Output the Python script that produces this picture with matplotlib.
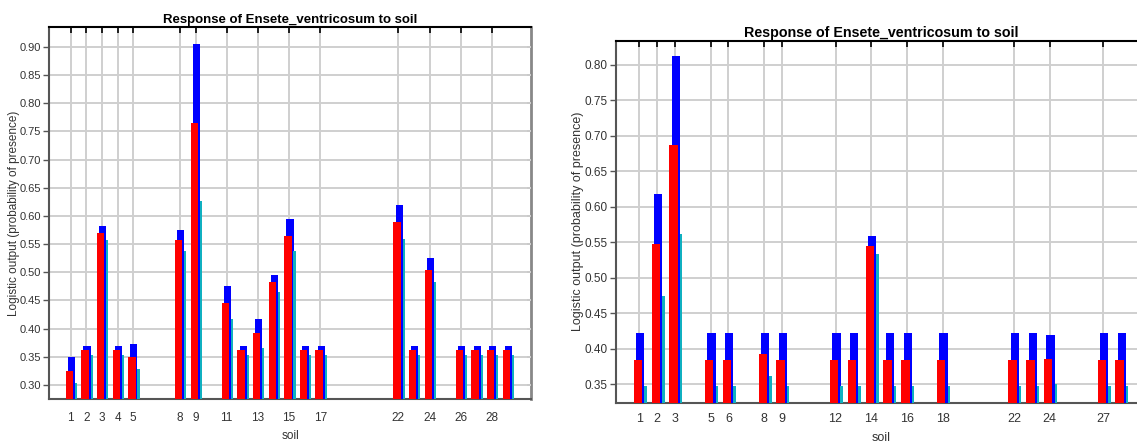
import matplotlib
matplotlib.use("Agg")
import matplotlib.pyplot as plt

plt.rcParams['font.family'] = ['Liberation Sans', 'DejaVu Sans']

title = "Response of Ensete_ventricosum to soil"
xlabel = "soil"
ylabel = "Logistic output (probability of presence)"

# Left panel
left_cats = [1, 2, 3, 4, 5, 8, 9, 11, 12, 13, 14, 15, 16, 17, 22, 23, 24, 26, 27, 28, 29]
left_blue = [0.350, 0.370, 0.583, 0.370, 0.372, 0.575, 0.906, 0.476, 0.370, 0.417, 0.496,
             0.595, 0.370, 0.370, 0.619, 0.370, 0.525, 0.370, 0.370, 0.370, 0.370]
left_red = [0.325, 0.362, 0.569, 0.362, 0.350, 0.557, 0.765, 0.445, 0.362, 0.393, 0.482,
            0.565, 0.362, 0.362, 0.589, 0.362, 0.504, 0.362, 0.362, 0.362, 0.362]
left_cyan = [0.303, 0.353, 0.557, 0.353, 0.328, 0.538, 0.626, 0.417, 0.353, 0.366, 0.465,
             0.537, 0.353, 0.353, 0.559, 0.353, 0.483, 0.353, 0.353, 0.353, 0.353]
left_ticks = [1, 2, 3, 4, 5, 8, 9, 11, 13, 15, 17, 22, 24, 26, 28]
left_yticks = [0.30, 0.35, 0.40, 0.45, 0.50, 0.55, 0.60, 0.65, 0.70, 0.75, 0.80, 0.85, 0.90]

# Right panel
right_cats = [1, 2, 3, 5, 6, 8, 9, 12, 13, 14, 15, 16, 18, 22, 23, 24, 27, 28]
right_blue = [0.422, 0.618, 0.812, 0.422, 0.422, 0.422, 0.422, 0.422, 0.422, 0.559,
              0.422, 0.422, 0.422, 0.422, 0.422, 0.420, 0.422, 0.422]
right_red = [0.384, 0.547, 0.687, 0.384, 0.384, 0.392, 0.384, 0.384, 0.384, 0.545,
             0.384, 0.384, 0.384, 0.384, 0.384, 0.386, 0.384, 0.384]
right_cyan = [0.347, 0.475, 0.561, 0.347, 0.347, 0.362, 0.347, 0.347, 0.347, 0.533,
              0.347, 0.347, 0.347, 0.347, 0.347, 0.351, 0.347, 0.347]
right_ticks = [1, 2, 3, 5, 6, 8, 9, 12, 14, 16, 18, 22, 24, 27]
right_yticks = [0.35, 0.40, 0.45, 0.50, 0.55, 0.60, 0.65, 0.70, 0.75, 0.80]

W, H = 1137, 445
fig = plt.figure(figsize=(W / 100, H / 100), dpi=100)

def px_axes(l, t, r, b):
    return fig.add_axes([l / W, 1 - b / H, (r - l) / W, (b - t) / H])

def draw(ax, cats, blue, red, cyan, ticks, yticks, xlim, ylim, fs, tfs, right_spine,
         ylab_x, xlab_y, xpad):
    base = ylim[0]
    bh = [v - base for v in blue]
    rh = [v - base for v in red]
    ch = [v - base for v in cyan]
    ax.bar([c + 0.05 for c in cats], bh, width=0.46, bottom=base, color='#0000ff', zorder=3, linewidth=0)
    ax.bar([c + 0.345 for c in cats], ch, width=0.14, bottom=base, color='#10b0c0', zorder=3, linewidth=0)
    ax.bar([c - 0.08 for c in cats], rh, width=0.47, bottom=base, color='#ff0000', zorder=4, linewidth=0)
    ax.set_xlim(*xlim)
    ax.set_ylim(*ylim)
    ax.set_xticks(ticks)
    ax.set_xticklabels([str(t) for t in ticks])
    ax.set_yticks(yticks)
    ax.set_yticklabels([f"{v:.2f}" for v in yticks])
    ax.grid(True, color='#cfcfcf', linewidth=1.4, zorder=0)
    ax.set_axisbelow(True)
    ax.tick_params(axis='x', bottom=False, top=True, direction='in', length=4,
                   width=1.2, color='#000000', labelsize=fs + 0.5, labelcolor='#333333', pad=xpad)
    ax.tick_params(axis='y', left=True, right=False, direction='out', length=4,
                   width=1, color='#555555', labelsize=fs, labelcolor='#333333', pad=2)
    if right_spine:
        sec = ax.secondary_yaxis('right')
        sec.set_yticks(yticks)
        sec.tick_params(axis='y', direction='in', length=3, width=1.2, color='#000000',
                        labelright=False)
        sec.spines['right'].set_color('#888888')
        sec.spines['right'].set_linewidth(2)
        ax.spines['right'].set_visible(False)
    else:
        ax.spines['right'].set_visible(False)
    ax.spines['top'].set_color('#000000')
    ax.spines['top'].set_linewidth(1.5)
    ax.spines['left'].set_color('#555555')
    ax.spines['left'].set_linewidth(1.5)
    ax.spines['bottom'].set_color('#555555')
    ax.spines['bottom'].set_linewidth(1.5)
    ax.set_title(title, fontsize=tfs, fontweight='bold', pad=3)
    ax.set_xlabel(xlabel, fontsize=fs + 0.5, color='#333333')
    ax.set_ylabel(ylabel, fontsize=fs + 0.5, color='#333333')
    ax.yaxis.set_label_coords(ylab_x, 0.5)
    ax.xaxis.set_label_coords(0.5, xlab_y)

ax1 = px_axes(49, 26.7, 531, 399.3)
draw(ax1, left_cats, left_blue, left_red, left_cyan, left_ticks, left_yticks,
     (-0.39, 30.5), (0.2746, 0.936), 8.0, 9.5, True, -0.060, -0.082, 9)

ax2 = px_axes(616, 40.7, 1146, 402.7)
draw(ax2, right_cats, right_blue, right_red, right_cyan, right_ticks, right_yticks,
     (-0.305, 29.4), (0.324, 0.834), 8.5, 10.3, False, -0.060, -0.081, 7.5)

fig.savefig("out.png", dpi=100)
